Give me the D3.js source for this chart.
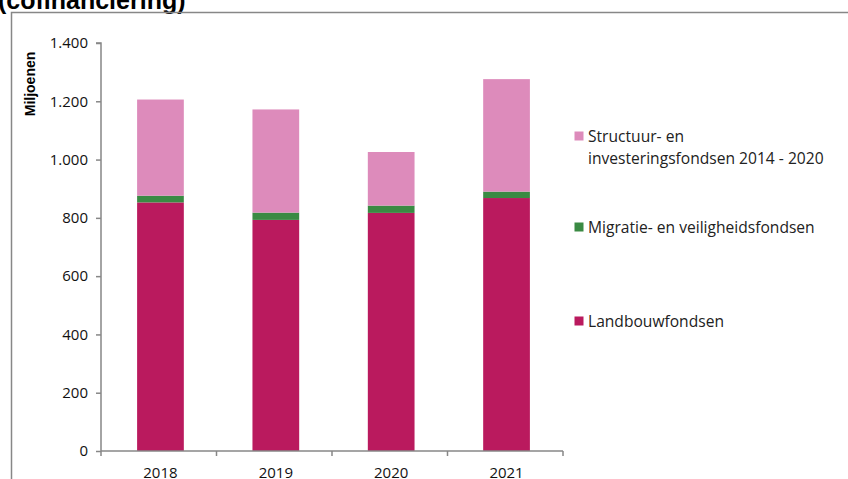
<!DOCTYPE html>
<html>
<head>
<meta charset="utf-8">
<script src="https://cdn.jsdelivr.net/npm/d3@7"></script>
<style>
  body { margin: 0; background: #fff; }
  svg { display: block; }
</style>
</head>
<body>
<script>
// data (miljoenen)
var years = ['2018', '2019', '2020', '2021'];
var landbouw = [853, 793, 817, 868];
var migratie = [23, 25, 25, 22];
var structuur = [330, 354, 184, 386];
var seriesNames = ['Landbouwfondsen', 'Migratie- en veiligheidsfondsen',
                   'Structuur- en investeringsfondsen 2014 - 2020'];
var yTicks = [0, 200, 400, 600, 800, 1000, 1200, 1400];

var colors = ['#ba1a5e', '#3a8a43', '#dd8bbb'];

var W = 848, H = 479;
var plot = {left: 101, right: 563, top: 43, bottom: 451};

var svg = d3.select('body').append('svg')
  .attr('width', W)
  .attr('height', H);

// clipped title on top
svg.append('text')
  .attr('x', -2)
  .attr('y', 9)
  .attr('font-family', 'Liberation Sans, Arial, sans-serif')
  .attr('font-weight', 'bold')
  .attr('font-size', 25)
  .attr('fill', '#000')
  .text('(cofinanciering)');

// chart frame
svg.append('path')
  .attr('d', 'M11.5,' + H + 'V12.5H' + W)
  .attr('fill', 'none')
  .attr('stroke', '#878787')
  .attr('stroke-width', 1.5);

var x = d3.scaleBand()
  .domain(years)
  .range([plot.left + 1.5, plot.right + 1.5])
  .paddingInner(0.595)
  .paddingOuter(0.3);

var y = d3.scaleLinear()
  .domain([0, 1400])
  .range([plot.bottom, plot.top]);

var table = years.map(function(yr, i) {
  return {year: yr, s0: landbouw[i], s1: migratie[i], s2: structuur[i]};
});
var stack = d3.stack().keys(['s0', 's1', 's2'])(table);

svg.append('g')
  .selectAll('g')
  .data(stack)
  .enter().append('g')
  .attr('fill', function(d, i) { return colors[i]; })
  .selectAll('rect')
  .data(function(d) { return d; })
  .enter().append('rect')
  .attr('x', function(d) { return x(d.data.year); })
  .attr('width', x.bandwidth())
  .attr('y', function(d) { return y(d[1]); })
  .attr('height', function(d) { return y(d[0]) - y(d[1]); });

var font = 'Open Sans, Liberation Sans, sans-serif';

// y axis
var yAxis = svg.append('g')
  .attr('transform', 'translate(' + plot.left + ',0)')
  .call(d3.axisLeft(y).tickValues(yTicks).tickSize(5).tickPadding(8)
    .tickFormat(function(d) { return d3.format(',')(d).replace(',', '.'); }));
yAxis.select('.domain').attr('stroke', '#878787').attr('stroke-width', 1.5)
  .attr('d', 'M-5,' + plot.top + 'H0V' + plot.bottom);
yAxis.selectAll('line').attr('stroke', '#878787').attr('stroke-width', 1.5);
yAxis.selectAll('text').attr('font-family', font).attr('font-size', 15).attr('fill', '#111');

// x axis with ticks between categories
var xAxis = svg.append('g')
  .attr('transform', 'translate(0,' + plot.bottom + ')');
xAxis.append('line')
  .attr('x1', plot.left).attr('x2', plot.right)
  .attr('stroke', '#878787').attr('stroke-width', 1.5);
var bounds = d3.range(years.length + 1).map(function(i) { return plot.left + i * (plot.right - plot.left) / years.length; });
xAxis.selectAll('.tk').data(bounds).enter().append('line')
  .attr('x1', function(d) { return d; }).attr('x2', function(d) { return d; })
  .attr('y1', 0).attr('y2', 5)
  .attr('stroke', '#878787').attr('stroke-width', 1.5);
xAxis.selectAll('.lbl').data(years).enter().append('text')
  .attr('x', function(d) { return x(d) + x.bandwidth() / 2; })
  .attr('y', 27)
  .attr('text-anchor', 'middle')
  .attr('font-family', font)
  .attr('font-size', 15)
  .attr('fill', '#111')
  .text(function(d) { return d; });

// y axis title
svg.append('text')
  .attr('transform', 'translate(35,84) rotate(-90)')
  .attr('text-anchor', 'middle')
  .attr('font-family', 'Liberation Sans, Arial, sans-serif')
  .attr('font-weight', 'bold')
  .attr('font-size', 14)
  .attr('fill', '#000')
  .text('Miljoenen');

// legend
var legendRows = [
  {i: 2, y: 142, lines: ['Structuur- en', 'investeringsfondsen 2014 - 2020']},
  {i: 1, y: 233, lines: ['Migratie- en veiligheidsfondsen']},
  {i: 0, y: 327, lines: ['Landbouwfondsen']}
];
var legend = svg.append('g');
legendRows.forEach(function(r) {
  legend.append('rect')
    .attr('x', 574.5).attr('y', r.y - 10.5)
    .attr('width', 9).attr('height', 9)
    .attr('fill', colors[r.i]);
  var t = legend.append('text')
    .attr('font-family', font)
    .attr('font-size', 15.6)
    .attr('fill', '#222');
  r.lines.forEach(function(line, k) {
    t.append('tspan')
      .attr('x', 588)
      .attr('y', r.y + k * 22)
      .text(line);
  });
});
</script>
</body>
</html>
